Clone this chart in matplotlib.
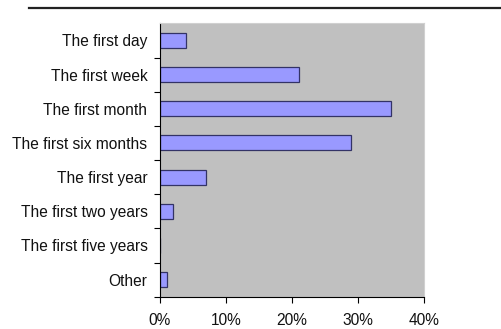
import matplotlib.pyplot as plt
from matplotlib.lines import Line2D
from matplotlib.ticker import FuncFormatter

plt.rcParams['font.family'] = ['Liberation Sans', 'DejaVu Sans']

categories = ['The first day', 'The first week', 'The first month',
              'The first six months', 'The first year', 'The first two years',
              'The first five years', 'Other']
values = [4, 21, 35, 29, 7, 2, 0, 1]
x_ticks = [0, 10, 20, 30, 40]

fig = plt.figure(figsize=(5.02, 3.29), dpi=100)
ax = fig.add_axes([0.3187, 0.098, 0.5259, 0.831])
ax.set_facecolor('#c0c0c0')

pos = list(range(len(categories)))
ax.barh(pos, values, height=0.44, color='#9999ff', edgecolor='#333366', linewidth=0.9)
ax.set_ylim(len(categories) - 0.5, -0.5)
ax.set_xlim(0, 40)

ax.set_yticks(pos)
ax.set_yticklabels(categories, fontsize=11.2, color='#111111')
ax.set_yticks([p + 0.5 for p in pos], minor=True)
ax.tick_params(axis='y', which='major', length=0, pad=9)
ax.tick_params(axis='y', which='minor', length=4, direction='out', width=0.8)
ax.set_xticks(x_ticks)
ax.xaxis.set_major_formatter(FuncFormatter(lambda v, p: '%d%%' % v))
ax.tick_params(axis='x', length=4, direction='out', width=0.8, labelsize=11.2,
               labelcolor='#111111', pad=8)

for s in ['top', 'right']:
    ax.spines[s].set_color('#d0d0d0')
    ax.spines[s].set_linewidth(0.8)
ax.spines['left'].set_color('black')
ax.spines['bottom'].set_color('black')
ax.spines['left'].set_linewidth(0.8)
ax.spines['bottom'].set_linewidth(0.8)

# rule across the top of the page
fig.add_artist(Line2D([0.058, 1.0], [0.975, 0.975], color='#222222', linewidth=1.6))

fig.savefig('out.png', dpi=100)
